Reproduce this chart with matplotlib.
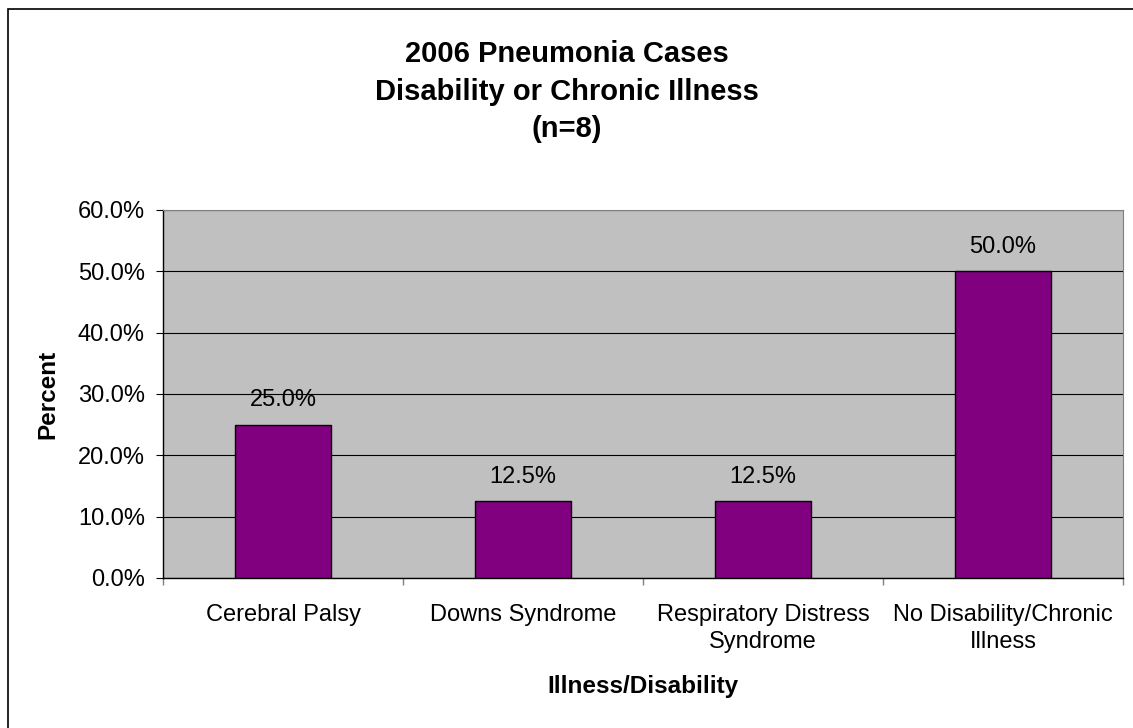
import matplotlib.pyplot as plt
from matplotlib.patches import Rectangle
from matplotlib.ticker import FixedLocator

plt.rcParams['font.family'] = ['Liberation Sans', 'DejaVu Sans']

title_lines = ['2006 Pneumonia Cases', 'Disability or Chronic Illness', '(n=8)']
categories = ['Cerebral Palsy', 'Downs Syndrome', 'Respiratory Distress\nSyndrome',
              'No Disability/Chronic\nIllness']
percents = [25.0, 12.5, 12.5, 50.0]
y_ticks = [0, 10, 20, 30, 40, 50, 60]

W, H = 1133, 728
fig = plt.figure(figsize=(W / 100, H / 100), dpi=100)
# plot area in pixels: left 163, right 1123, top 210, bottom 578
ax = fig.add_axes([163 / W, 1 - 578 / H, (1123 - 163) / W, (578 - 210) / H])
ax.set_facecolor('#C0C0C0')

x = range(len(categories))
ax.bar(x, percents, width=0.4, color='#800080', edgecolor='black', linewidth=1.0, zorder=3)
for xi, v in zip(x, percents):
    ax.text(xi, v + 3.0, '%.1f%%' % v, ha='center', va='baseline', fontsize=17, zorder=4)

ax.set_xlim(-0.5, len(categories) - 0.5)
ax.set_ylim(0, 60)
ax.set_yticks(y_ticks)
ax.set_yticklabels(['%.1f%%' % t for t in y_ticks], fontsize=17)
ax.yaxis.grid(True, color='black', linewidth=0.8, zorder=1)
ax.tick_params(axis='y', direction='out', length=5, width=0.8, pad=8)

# ticks between categories, labels centred on the bars
ax.xaxis.set_major_locator(FixedLocator([i + 0.5 for i in range(-1, len(categories))]))
ax.set_xticklabels([])
ax.xaxis.set_minor_locator(FixedLocator(list(x)))
ax.set_xticklabels(categories, minor=True, fontsize=17, linespacing=1.25)
ax.tick_params(axis='x', which='major', direction='out', length=5, width=1, color='#808080')
ax.tick_params(axis='x', which='minor', length=0, pad=19)

for s in ['top', 'right']:
    ax.spines[s].set_color('#808080')
for s in ['left', 'bottom']:
    ax.spines[s].set_color('black')
    ax.spines[s].set_linewidth(1.0)

fig.text(47.5 / W, 1 - 394 / H, 'Percent', rotation=90, ha='center', va='center',
         fontsize=17.5, fontweight='bold')
fig.text(643 / W, 1 - 693 / H, 'Illness/Disability', ha='center', va='baseline',
         fontsize=17.5, fontweight='bold')

for line, base in zip(title_lines, [62, 99.5, 137]):
    fig.text(566.5 / W, 1 - base / H, line, ha='center', va='baseline',
             fontsize=21, fontweight='bold')

# chart border, right and bottom edges fall outside the image
fig.patches.append(Rectangle((8 / W, -0.1), 1.2, 1.1 - 9 / H,
                             transform=fig.transFigure, fill=False, edgecolor='black', linewidth=1.2))

fig.savefig('out.png', dpi=100)
